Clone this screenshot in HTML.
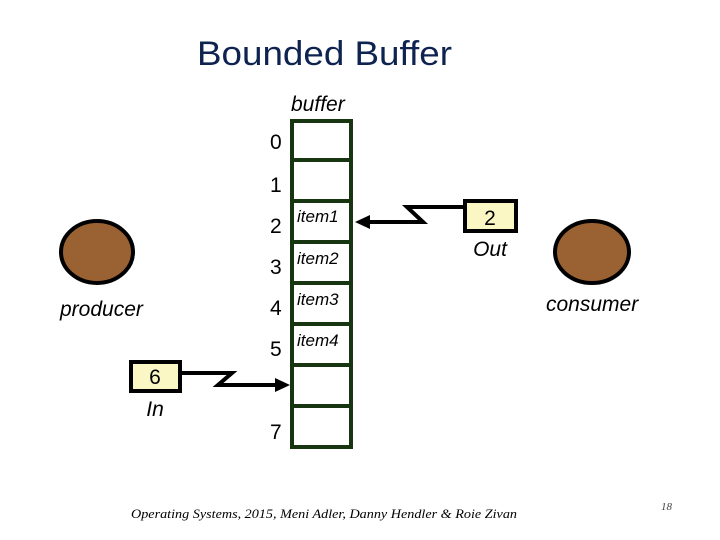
<!DOCTYPE html>
<html><head><meta charset="utf-8"><style>
html,body{margin:0;padding:0;background:#fff;}
svg{display:block;}
</style></head><body>
<svg width="720" height="540" viewBox="0 0 720 540" xmlns="http://www.w3.org/2000/svg" font-family="Liberation Sans, sans-serif">
<rect width="720" height="540" fill="#fff"/>
<text x="197" y="65" font-size="34" fill="#0f2350" textLength="255" lengthAdjust="spacingAndGlyphs">Bounded Buffer</text>
<text x="291" y="111" font-size="21" font-style="italic" fill="#000">buffer</text>
<!-- buffer column -->
<g stroke="#173510" stroke-width="4" fill="#fff">
<rect x="292" y="121" width="59" height="326"/>
<line x1="292" y1="160" x2="351" y2="160"/>
<line x1="292" y1="201" x2="351" y2="201"/>
<line x1="292" y1="242" x2="351" y2="242"/>
<line x1="292" y1="283" x2="351" y2="283"/>
<line x1="292" y1="324" x2="351" y2="324"/>
<line x1="292" y1="365" x2="351" y2="365"/>
<line x1="292" y1="406" x2="351" y2="406"/>
</g>
<g font-size="21" fill="#000">
<text x="270" y="149">0</text>
<text x="270" y="192">1</text>
<text x="270" y="233">2</text>
<text x="270" y="274">3</text>
<text x="270" y="315">4</text>
<text x="270" y="356">5</text>
<text x="270" y="439">7</text>
</g>
<g font-size="17" font-style="italic" fill="#000">
<text x="297" y="222">item1</text>
<text x="297" y="264">item2</text>
<text x="297" y="305">item3</text>
<text x="297" y="346">item4</text>
</g>
<!-- Out pointer -->
<rect x="465" y="201" width="51" height="30" fill="#fbf7c5" stroke="#000" stroke-width="4"/>
<text x="490" y="225" font-size="21" text-anchor="middle">2</text>
<text x="490" y="256" font-size="21" font-style="italic" text-anchor="middle">Out</text>
<polyline points="465,207 407,207 423,222 368,222" fill="none" stroke="#000" stroke-width="4"/>
<polygon points="355,222 370,215 370,229" fill="#000"/>
<!-- In pointer -->
<rect x="131" y="362" width="49" height="29" fill="#fbf7c5" stroke="#000" stroke-width="4"/>
<text x="155" y="384" font-size="21" text-anchor="middle">6</text>
<text x="155" y="416" font-size="21" font-style="italic" text-anchor="middle">In</text>
<polyline points="180,373 232,373 218,385 276,385" fill="none" stroke="#000" stroke-width="4"/>
<polygon points="290,385 275,378 275,392" fill="#000"/>
<!-- producer / consumer -->
<ellipse cx="97" cy="252" rx="36" ry="31" fill="#9a6232" stroke="#000" stroke-width="4"/>
<text x="60" y="316" font-size="21" font-style="italic">producer</text>
<ellipse cx="592" cy="252" rx="37" ry="31" fill="#9a6232" stroke="#000" stroke-width="4"/>
<text x="546" y="311" font-size="21" font-style="italic">consumer</text>
<!-- footer -->
<text x="131" y="518" font-size="13" font-style="italic" font-family="Liberation Serif, serif" fill="#000" textLength="386" lengthAdjust="spacingAndGlyphs">Operating Systems, 2015, Meni Adler, Danny Hendler &amp; Roie Zivan</text>
<text x="661" y="510" font-size="11" font-style="italic" font-family="Liberation Serif, serif" fill="#444">18</text>
</svg>
</body></html>
